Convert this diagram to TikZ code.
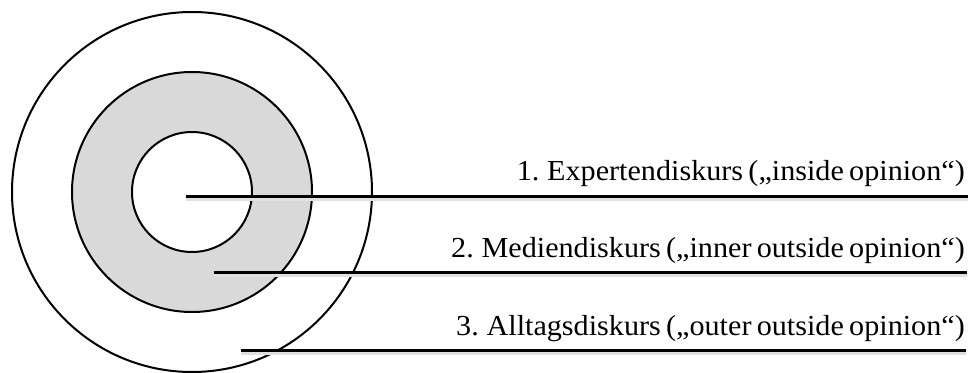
\documentclass[tikz,border=0pt]{standalone}
\usepackage{fontspec}
\setmainfont{Liberation Serif}
\newfontfamily\labelfont[FakeStretch=1.04,WordSpace=0.7]{Liberation Serif}
\begin{document}
\begin{tikzpicture}[x=1pt,y=-1pt,
  ring/.style={circle, draw=black, line width=2pt, inner sep=0pt, outer sep=0pt},
  leader/.style={line width=3pt, black},
  leadershadow/.style={line width=3pt, black!12},
  label/.style={anchor=base east, inner sep=0pt, font=\labelfont\fontsize{29}{34}\selectfont}]
\useasboundingbox (0,0) rectangle (971,372);
\node[ring, minimum size=360pt, fill=white] (outer) at (192,192) {};
\node[ring, minimum size=240pt, fill={rgb,255:red,217;green,217;blue,217}] (middle) at (192,192) {};
\node[ring, minimum size=120pt, fill=white] (inner) at (192,192) {};
% leader coordinates
\coordinate (s1) at (186,196);
\coordinate (e1) at (968,196);
\coordinate (s2) at (214,272);
\coordinate (e2) at (967,272);
\coordinate (s3) at (241,350);
\coordinate (e3) at (966,350);
\draw[leadershadow] ([yshift=-3pt]s1) -- ([yshift=-3pt]e1);
\draw[leadershadow] ([yshift=-3pt]s2) -- ([yshift=-3pt]e2);
\draw[leadershadow] ([yshift=-3pt]s3) -- ([yshift=-3pt]e3);
\draw[leader] (s1) -- (e1);
\draw[leader] (s2) -- (e2);
\draw[leader] (s3) -- (e3);
\node[label] (t1) at (965,180.5) {1. Expertendiskurs („inside opinion“)};
\node[label] (t2) at (965,257.5) {2. Mediendiskurs („inner outside opinion“)};
\node[label] (t3) at (965,335) {3. Alltagsdiskurs („outer outside opinion“)};
\end{tikzpicture}
\end{document}
